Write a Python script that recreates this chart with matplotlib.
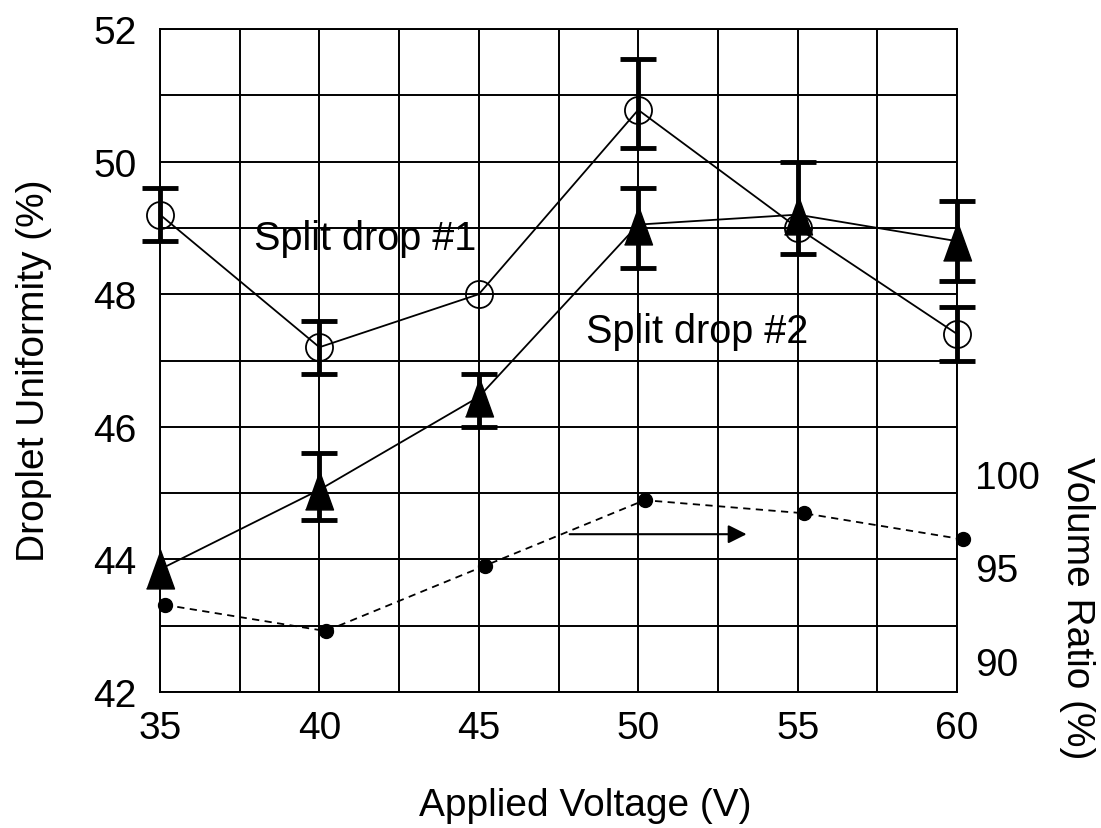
import numpy as np
import matplotlib
matplotlib.use("Agg")
import matplotlib.pyplot as plt
from matplotlib.ticker import MultipleLocator

plt.rcParams["font.family"] = ["Liberation Sans", "DejaVu Sans"]

# data
voltage = [35, 40, 45, 50, 55, 60]

drop1 = [49.2, 47.2, 48.0, 50.78, 49.0, 47.4]
drop1_lo = [48.8, 46.8, np.nan, 50.2, np.nan, 47.0]
drop1_hi = [49.6, 47.6, np.nan, 51.55, np.nan, 47.8]

drop2 = [43.85, 45.05, 46.45, 49.05, 49.2, 48.8]
drop2_lo = [np.nan, 44.6, 46.0, 48.4, 48.6, 48.2]
drop2_hi = [np.nan, 45.6, 46.8, 49.6, 50.0, 49.4]

vol_voltage = [35.15, 40.2, 45.2, 50.2, 55.2, 60.2]
vol_ratio = [93.0, 91.6, 95.1, 98.6, 97.9, 96.5]

# the 35 V triangle only shows a thin upper whisker
stub_x = [35]
stub_lo = [43.85]
stub_hi = [44.6]

tri = [(-0.36, -0.5), (0.36, -0.5), (0.0, 0.5)]


def err_arrays(vals, lo, hi):
    vals = np.asarray(vals, dtype=float)
    lo = np.asarray(lo, dtype=float)
    hi = np.asarray(hi, dtype=float)
    mask = ~np.isnan(lo)
    return mask, np.vstack([vals[mask] - lo[mask], hi[mask] - vals[mask]])


def main():
    fig = plt.figure(figsize=(11.01, 8.29), dpi=100)
    ax = fig.add_axes([160 / 1101, 1 - 693 / 829, 797 / 1101, 663 / 829])

    ax.set_xlim(35, 60)
    ax.set_ylim(42, 52)
    ax.xaxis.set_major_locator(MultipleLocator(5))
    ax.xaxis.set_minor_locator(MultipleLocator(2.5))
    ax.yaxis.set_major_locator(MultipleLocator(2))
    ax.yaxis.set_minor_locator(MultipleLocator(1))
    ax.grid(True, which="both", color="black", linewidth=1.4)
    ax.set_axisbelow(True)
    ax.tick_params(which="both", length=0, labelsize=28)
    ax.tick_params(axis="x", pad=13)
    ax.tick_params(axis="y", pad=17)
    for sp in ax.spines.values():
        sp.set_linewidth(1.4)

    x = np.asarray(voltage, dtype=float)

    # error bars
    m1, e1 = err_arrays(drop1, drop1_lo, drop1_hi)
    ax.errorbar(x[m1], np.asarray(drop1)[m1], yerr=e1, fmt="none", ecolor="black",
                elinewidth=3.5, capsize=13, capthick=3.5, clip_on=False, zorder=3)
    m2, e2 = err_arrays(drop2, drop2_lo, drop2_hi)
    ax.errorbar(x[m2], np.asarray(drop2)[m2], yerr=e2, fmt="none", ecolor="black",
                elinewidth=3.5, capsize=13, capthick=3.5, clip_on=False, zorder=3)
    ax.vlines(stub_x, stub_lo, stub_hi, color="black", linewidth=1.3, zorder=3)

    # series
    ax.plot(x, drop1, color="black", linewidth=1.3, marker="o", markersize=19.5,
            markerfacecolor="none", markeredgecolor="black", markeredgewidth=1.3,
            clip_on=False, zorder=4)
    ax.plot(x, drop2, color="black", linewidth=1.3, marker=tri, markersize=28,
            markerfacecolor="black", markeredgecolor="black",
            clip_on=False, zorder=4)

    ax.text(37.95, 48.85, "Split drop #1", fontsize=28.5, va="center", ha="left", zorder=5)
    ax.text(48.35, 47.45, "Split drop #2", fontsize=28.5, va="center", ha="left", zorder=5)

    ax.annotate("", xy=(53.4, 44.38), xytext=(47.85, 44.38),
                arrowprops=dict(arrowstyle="-|>", color="black", lw=1.5,
                                mutation_scale=28, shrinkA=0, shrinkB=0))

    # volume ratio on right axis
    ax2 = ax.twinx()
    ax2.set_ylim(88.34, 123.8)
    ax2.set_yticks([90, 95, 100])
    ax2.tick_params(length=0, labelsize=28, pad=13)
    for sp in ax2.spines.values():
        sp.set_visible(False)
    ax2.plot(vol_voltage, vol_ratio, color="black", linewidth=1.3, linestyle=(0, (4, 3)),
             marker="o", markersize=10, markerfacecolor="black", clip_on=False)

    fig.text(34 / 1101, 1 - 371 / 829, "Droplet Uniformity (%)", fontsize=28,
             ha="center", va="center", rotation=90)
    fig.text(585 / 1101, 1 - 806 / 829, "Applied Voltage (V)", fontsize=28,
             ha="center", va="center")
    fig.text(1077 / 1101, 1 - 608 / 829, "Volume Ratio (%)", fontsize=28,
             ha="center", va="center", rotation=270)

    fig.savefig("out.png", dpi=100)


if __name__ == "__main__":
    main()
